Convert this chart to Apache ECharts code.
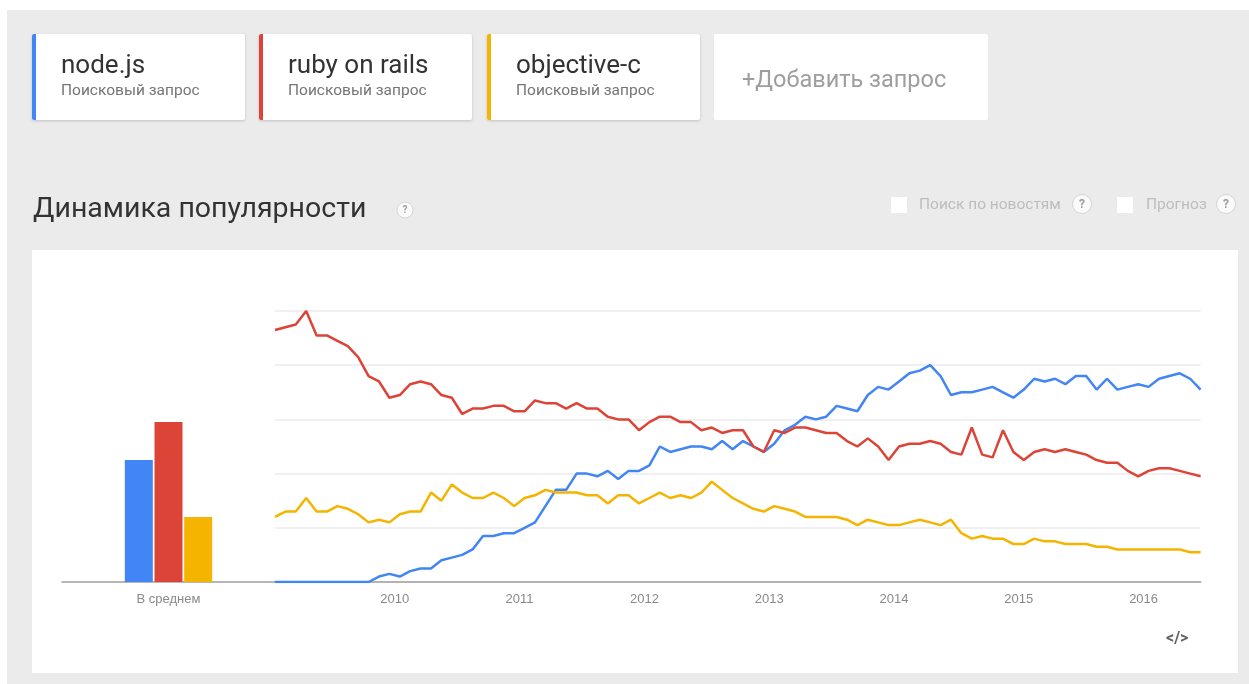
<!DOCTYPE html>
<html>
<head>
<meta charset="utf-8">
<title>Динамика популярности</title>
<script src="https://cdn.jsdelivr.net/npm/echarts@6/dist/echarts.min.js"></script>
<style>
html, body { margin: 0; padding: 0; background: #fff; }
#trend { width: 1249px; height: 684px; }
</style>
</head>
<body>
<div id="trend"></div>
<script>
var terms = ['node.js', 'ruby on rails', 'objective-c']
var termColors = ['#4285f4', '#db4437', '#f4b400']
var yearLabels = ['2010', '2011', '2012', '2013', '2014', '2015', '2016']
var avgLabel = ['В среднем']
var averages = [45, 59, 24]

// monthly values, Jan 2009 .. Jun 2016
var nodeValues = [
	0, 0, 0, 0, 0, 0, 0, 0, 0, 0, 2, 3,
	2, 4, 5, 5, 8, 9, 10, 12, 17, 17, 18, 18,
	20, 22, 28, 34, 34, 40, 40, 39, 41, 38, 41, 41,
	43, 50, 48, 49, 50, 50, 49, 52, 49, 52, 50, 48,
	51, 56, 58, 61, 60, 61, 65, 64, 63, 69, 72, 71,
	74, 77, 78, 80, 76, 69, 70, 70, 71, 72, 70, 68,
	71, 75, 74, 75, 73, 76, 76, 71, 75, 71, 72, 73,
	72, 75, 76, 77, 75, 71
]
var railsValues = [
	93, 94, 95, 100, 91, 91, 89, 87, 83, 76, 74, 68,
	69, 73, 74, 73, 69, 68, 62, 64, 64, 65, 65, 63,
	63, 67, 66, 66, 64, 66, 64, 64, 61, 60, 60, 56,
	59, 61, 61, 59, 59, 56, 57, 55, 56, 56, 50, 48,
	56, 55, 57, 57, 56, 55, 55, 52, 50, 53, 50, 45,
	50, 51, 51, 52, 51, 48, 47, 57, 47, 46, 56, 48,
	45, 48, 49, 48, 49, 48, 47, 45, 44, 44, 41, 39,
	41, 42, 42, 41, 40, 39
]
var objcValues = [
	24, 26, 26, 31, 26, 26, 28, 27, 25, 22, 23, 22,
	25, 26, 26, 33, 30, 36, 33, 31, 31, 33, 31, 28,
	31, 32, 34, 33, 33, 33, 32, 32, 29, 32, 32, 29,
	31, 33, 31, 32, 31, 33, 37, 34, 31, 29, 27, 26,
	28, 27, 26, 24, 24, 24, 24, 23, 21, 23, 22, 21,
	21, 22, 23, 22, 21, 23, 18, 16, 17, 16, 16, 14,
	14, 16, 15, 15, 14, 14, 14, 13, 13, 12, 12, 12,
	12, 12, 12, 12, 11, 11
]

var months = []
for (var i = 0; i < nodeValues.length; i++) {
	var m = (i % 12) + 1
	months.push((2009 + Math.floor(i / 12)) + '-' + (m < 10 ? '0' + m : m))
}

var font = 'Roboto, "Noto Sans", sans-serif'
var axisFont = '"Liberation Sans", Arial, sans-serif'

function rect(x, y, w, h, fill, extra) {
	var el = { type: 'rect', z: -5, shape: { x: x, y: y, width: w, height: h }, style: { fill: fill } }
	if (extra) {
		if (extra.r) el.shape.r = extra.r
		for (var k in extra) if (k !== 'r') el.style[k] = extra[k]
	}
	return el
}
function text(x, y, str, size, color, weight) {
	return {
		type: 'text', z: -4, x: x, y: y,
		style: {
			text: str, fill: color, textVerticalAlign: 'middle',
			font: (weight || 'normal') + ' ' + size + 'px ' + font
		}
	}
}
function help(cx, cy, r) {
	return [
		{ type: 'circle', z: -4, shape: { cx: cx, cy: cy, r: r }, style: { fill: '#fafafa', stroke: '#d6d6d6', lineWidth: 1 } },
		{ type: 'text', z: -3, x: cx, y: cy + 0.5, style: { text: '?', fill: '#9e9e9e', textAlign: 'center', textVerticalAlign: 'middle', font: 'bold ' + Math.round(r * 1.3) + 'px ' + font } }
	]
}

var cardX = [32, 259, 487]
var elements = [
	rect(0, 0, 1249, 10, '#ffffff'),
	rect(0, 0, 7, 684, '#ffffff')
]
for (var c = 0; c < terms.length; c++) {
	elements.push(rect(cardX[c], 34, 213, 86, '#ffffff', { r: 2, shadowBlur: 3, shadowOffsetY: 1, shadowColor: 'rgba(0,0,0,0.18)' }))
	elements.push(rect(cardX[c], 34, 4, 86, termColors[c], { r: [2, 0, 0, 2] }))
	elements.push(text(cardX[c] + 29, 66.5, terms[c], 26, '#333333'))
	elements.push(text(cardX[c] + 29, 91.5, 'Поисковый запрос', 15.5, '#757575'))
}
elements.push(rect(714, 34, 274, 86, '#ffffff', { r: 2 }))
elements.push(text(742, 81, '+Добавить запрос', 23.5, '#9e9e9e'))
elements.push(text(33, 210, 'Динамика популярности', 28.5, '#333333'))
elements = elements.concat(help(405, 210, 8))
elements.push(rect(891, 197, 16, 16, '#ffffff'))
elements.push(text(919, 205, 'Поиск по новостям', 15.5, '#bdbdbd'))
elements = elements.concat(help(1082, 204, 9.5))
elements.push(rect(1117, 197, 16, 16, '#ffffff'))
elements.push(text(1146, 205, 'Прогноз', 15.5, '#bdbdbd'))
elements = elements.concat(help(1226, 204, 9.5))
elements.push(rect(32, 250, 1206, 423, '#ffffff'))
elements.push(text(1166, 639, '</>', 16, '#616161', 'bold'))

var series = []
for (var s = 0; s < terms.length; s++) {
	series.push({
		name: terms[s],
		type: 'bar',
		xAxisIndex: 0,
		yAxisIndex: 0,
		data: [averages[s]],
		barWidth: 28,
		barGap: '6%',
		itemStyle: { color: termColors[s] }
	})
}
var lineData = [nodeValues, railsValues, objcValues]
for (var s = 0; s < terms.length; s++) {
	series.push({
		name: terms[s],
		type: 'line',
		xAxisIndex: 1,
		yAxisIndex: 1,
		data: lineData[s],
		symbol: 'none',
		lineStyle: { color: termColors[s], width: 2.5 },
		itemStyle: { color: termColors[s] }
	})
}

var myChart = echarts.init(document.getElementById('trend'))
myChart.setOption({
	animation: false,
	backgroundColor: '#ebebeb',
	textStyle: { fontFamily: font },
	graphic: { elements: elements },
	grid: [
		{ left: 62, width: 213, top: 311, height: 271 },
		{ left: 275, width: 925.6, top: 311, height: 271 }
	],
	xAxis: [
		{
			type: 'category',
			gridIndex: 0,
			data: avgLabel,
			axisTick: { show: false },
			axisLine: { lineStyle: { color: '#9e9e9e', width: 1.5 } },
			axisLabel: { color: '#8a8a8a', fontSize: 13, fontFamily: axisFont, margin: 11 }
		},
		{
			type: 'category',
			gridIndex: 1,
			data: months,
			boundaryGap: false,
			axisTick: { show: false },
			axisLine: { lineStyle: { color: '#9e9e9e', width: 1.5 } },
			axisLabel: {
				color: '#8a8a8a',
				fontSize: 13,
				fontFamily: axisFont,
				margin: 11,
				padding: [0, 10, 0, 0],
				interval: function (index, value) {
					return value.slice(5) === '01' && yearLabels.indexOf(value.slice(0, 4)) >= 0
				},
				formatter: function (value) {
					return value.slice(0, 4)
				}
			}
		}
	],
	yAxis: [
		{ type: 'value', gridIndex: 0, min: 0, max: 100, show: false },
		{
			type: 'value',
			gridIndex: 1,
			min: 0,
			max: 100,
			interval: 20,
			axisLine: { show: false },
			axisTick: { show: false },
			axisLabel: { show: false },
			splitLine: { lineStyle: { color: '#ebebeb', width: 1.5 } }
		}
	],
	series: series
})
</script>
</body>
</html>
